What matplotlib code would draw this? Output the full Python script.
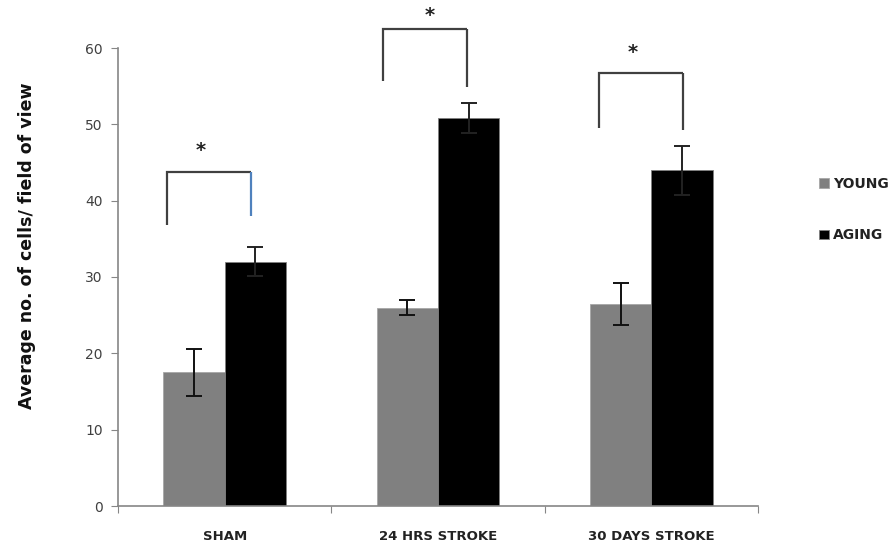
import numpy as np
import matplotlib.pyplot as plt

# Data
groups = ['SHAM', '24 HRS STROKE', '30 DAYS STROKE']
young = [17.5, 26.0, 26.5]
young_err = [3.1, 1.0, 2.75]
aging = [32.0, 50.8, 44.0]
aging_err = [1.9, 2.0, 3.2]

# significance brackets: (x left, x right, y top, y left leg end, y right leg end)
bracket_x = [(-0.27, 0.124), (-0.256, 0.138), (-0.246, 0.148)]
bracket_y = [(43.8, 36.8, 38.0), (62.5, 55.7, 54.9), (56.7, 49.5, 49.3)]
star_x = [-0.11, -0.04, -0.087]
star_y = [46.6, 64.3, 59.4]
right_leg_colors = ['#4f81bd', '#404040', '#404040']

fig = plt.figure(figsize=(8.96, 5.5), dpi=100)
ax = fig.add_axes([118 / 896, 1 - 506 / 550, (758 - 118) / 896, (506 - 48) / 550])

x = np.arange(len(groups))
w = 0.287
ax.bar(x - w / 2, young, w, color='#808080', edgecolor='#a6a6a6', linewidth=0.6,
       label='YOUNG', zorder=2)
ax.bar(x + w / 2, aging, w, color='#000000', edgecolor='#808080', linewidth=0.6,
       label='AGING', zorder=2)
ax.errorbar(x - w / 2, young, yerr=young_err, fmt='none', ecolor='#111111',
            elinewidth=1.4, capsize=5.5, capthick=1.4, zorder=3)
ax.errorbar(x + w / 2, aging, yerr=aging_err, fmt='none', ecolor='#222222',
            elinewidth=1.4, capsize=5.5, capthick=1.4, zorder=3)

for i in range(len(groups)):
    xl, xr = bracket_x[i]
    yt, yl, yr = bracket_y[i]
    ax.plot([i + xl, i + xl, i + xr], [yl, yt, yt], color='#404040', lw=1.6,
            clip_on=False, solid_capstyle='butt', solid_joinstyle='miter')
    ax.plot([i + xr, i + xr], [yt, yr], color=right_leg_colors[i], lw=1.6,
            clip_on=False, solid_capstyle='butt')
    ax.text(i + star_x[i], star_y[i], '*', ha='center', va='center', fontsize=14,
            fontweight='bold', color='#222222', clip_on=False)

ax.set_xlim(-0.5, 2.5)
ax.set_ylim(0, 60)
ax.set_yticks(np.arange(0, 61, 10))
ax.tick_params(axis='y', direction='out', length=5, color='#868686',
               labelsize=10, labelcolor='#404040', pad=6)
ax.set_xticks([-0.5, 0.5, 1.5, 2.5])
ax.set_xticklabels([])
ax.tick_params(axis='x', which='major', direction='out', length=5, color='#868686')
ax.set_xticks(x, minor=True)
ax.set_xticklabels(groups, minor=True, fontsize=9.5, fontweight='bold', color='#222222')
ax.tick_params(axis='x', which='minor', length=0, pad=17)

for s in ['top', 'right']:
    ax.spines[s].set_visible(False)
for s in ['left', 'bottom']:
    ax.spines[s].set_color('#868686')
    ax.spines[s].set_linewidth(1.2)

ax.set_ylabel('Average no. of cells/ field of view', fontsize=12.5, fontweight='bold',
              color='#111111')
ax.yaxis.set_label_coords(-0.128, 0.568)

leg = ax.legend(loc='upper left', bbox_to_anchor=(812 / 896, 1 - 170 / 550),
                bbox_transform=fig.transFigure, frameon=False, fontsize=10,
                handlelength=0.7, handleheight=0.7, handletextpad=0.3,
                labelspacing=2.7, borderpad=0)
for t in leg.get_texts():
    t.set_fontweight('bold')
    t.set_color('#222222')

fig.savefig('out.png', dpi=100)
